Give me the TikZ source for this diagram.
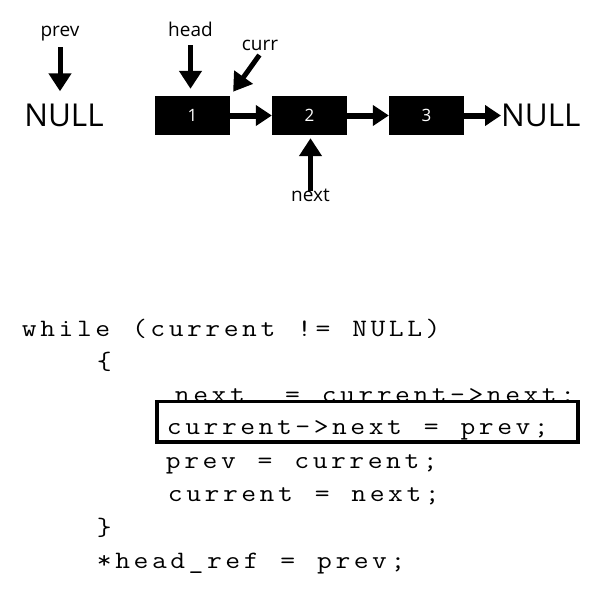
\documentclass[tikz,border=0pt]{standalone}
\usepackage{fontspec}
\usepackage{graphicx}
\setmainfont{Open Sans}
\newfontfamily\codefont{Latin Modern Mono}
\usetikzlibrary{arrows.meta}

% every code character in a cell of fixed width
\ExplSyntaxOn
\NewDocumentCommand\codetext{m}{\tl_map_inline:nn{#1}{\makebox[18.35pt][c]{\scalebox{1.15}[1]{##1}}}}
\ExplSyntaxOff

\begin{document}
\begin{tikzpicture}[x=1pt, y=-1pt,
    listnode/.style={fill=black, text=white, minimum width=75pt, minimum height=39pt,
      inner sep=0pt, font=\fontsize{17}{20}\selectfont},
    nulltext/.style={inner sep=0pt, text height=22pt, text depth=0pt,
      font=\fontsize{31.5}{36}\selectfont},
    ptrname/.style={inner sep=0pt, text height=14pt, text depth=4pt,
      font=\fontsize{19}{22}\selectfont},
    ptr/.style={line width=5pt, -{Triangle[length=18pt, width=22pt]}},
    link/.style={line width=6pt, -{Triangle[length=16pt, width=20pt]}},
    codeline/.style={anchor=base west, inner sep=0pt,
      font=\codefont\fontsize{25}{28}\selectfont}]

    \useasboundingbox (0,0) rectangle (600,597);

    % Pointer names
    \node[ptrname] (prev) at (60,31) {prev};
    \node[ptrname] (head) at (190.5,31) {head};
    \node[ptrname] (curr) at (260,45) {curr};
    \node[ptrname] (next) at (310.5,196) {next};

    % NULL at both ends
    \node[nulltext] (nullL) at (64,115.5) {NULL};
    \node[nulltext, anchor=west] (nullR) at (501,115.5) {NULL};

    % List nodes
    \foreach \i/\x in {1/192.5, 2/309.5, 3/426.5}
      \node[listnode] (n\i) at (\x,115.5) {\i};

    % Links between nodes
    \foreach \a/\b in {n1/n2, n2/n3, n3/nullR}
      \draw[link] (\a) -- (\b);

    % Pointers
    \draw[ptr, shorten <=7pt, shorten >=13pt] (prev.south) -- (prev.south |- nullL.north);
    \draw[ptr, shorten <=5pt, shorten >=7pt] (head.south) -- (head.south |- n1.north);
    \draw[ptr, shorten <=1pt, shorten >=5pt] (curr.south) -- (n1.north east);
    \draw[ptr, shorten <=-4pt, shorten >=3pt] (next.north) -- (next.north |- n2.south);

    % Code
    \node[codeline] (l1) at (20,336) {\codetext{while~(current~!=~NULL)}};
    \node[codeline] (l2) at (95,369) {\codetext{\{}};
    \node[codeline] (l3) at (173,402) {\codetext{next~~=~current->next;}};

    % Highlight box
    \draw[line width=3.5pt, fill=white] (157,401.5) rectangle (578,442);

    \node[codeline] (l4) at (165,434) {\codetext{current->next~=~prev;}};
    \node[codeline] (l5) at (164,468) {\codetext{prev~=~current;}};
    \node[codeline] (l6) at (166,501) {\codetext{current~=~next;}};
    \node[codeline] (l7) at (95,535) {\codetext{\}}};
    \node[codeline] (l8) at (95,568) {\codetext{*head\_ref~=~prev;}};

\end{tikzpicture}
\end{document}
